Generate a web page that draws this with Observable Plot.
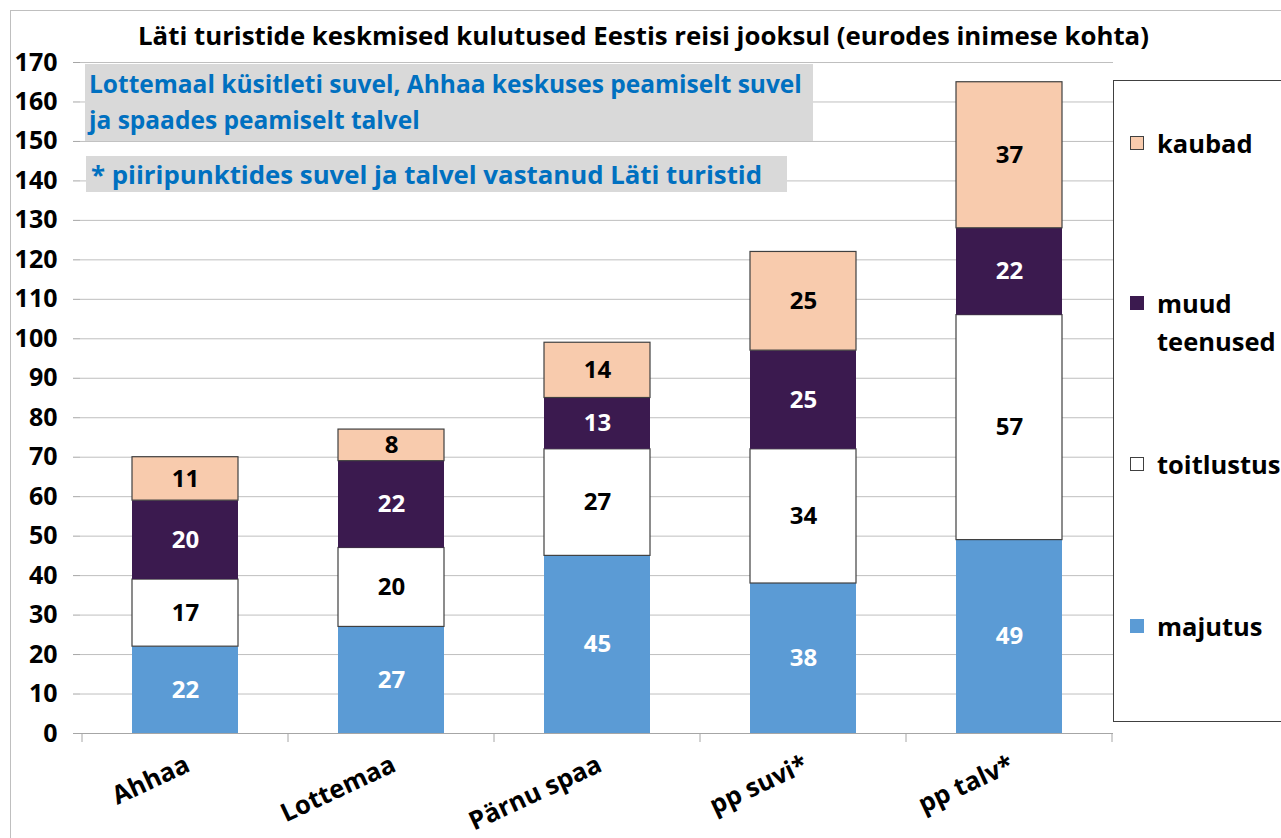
<!DOCTYPE html>
<html><head><meta charset="utf-8">
<script src="https://cdn.jsdelivr.net/npm/d3@7"></script>
<script src="https://cdn.jsdelivr.net/npm/@observablehq/plot@0.6"></script>
<style>
body{margin:0;background:#fff;font-family:"Open Sans",sans-serif;}
#wrap{position:relative;width:1281px;height:838px;overflow:hidden;}
#wrap svg{position:absolute;left:0;top:0;}
.ov{position:absolute;font-weight:bold;}
</style></head><body>
<div id="wrap"></div>
<script>
const categories = ["Ahhaa","Lottemaa","Pärnu spaa","pp suvi*","pp talv*"];
const seriesNames = ["majutus","toitlustus","muud teenused","kaubad"];
const majutus   = [22,27,45,38,49];
const toitlustus= [17,20,27,34,57];
const muud      = [20,22,13,25,22];
const kaubad    = [11,8,14,25,37];
const yTicks = d3.range(0,171,10);
const titleText = "Läti turistide keskmised kulutused Eestis reisi jooksul (eurodes inimese kohta)";
const note1 = ["Lottemaal küsitleti suvel, Ahhaa keskuses peamiselt suvel","ja spaades peamiselt talvel"];
const note2 = "* piiripunktides suvel ja talvel vastanud Läti turistid";

const colors = {"majutus":"#5B9BD5","toitlustus":"#FFFFFF","muud teenused":"#3B1A4F","kaubad":"#F8CBAD"};
const strokes = {"majutus":"none","toitlustus":"#404040","muud teenused":"none","kaubad":"#404040"};
const textColors = {"majutus":"#FFFFFF","toitlustus":"#000000","muud teenused":"#FFFFFF","kaubad":"#000000"};

const seriesVals = [majutus,toitlustus,muud,kaubad];
const rows = [];
categories.forEach((c,i)=>{
  let acc=0;
  seriesNames.forEach((s,j)=>{
    const v=seriesVals[j][i];
    rows.push({cat:c,series:s,value:v,y1:acc,y2:acc+v,mid:acc+v/2});
    acc+=v;
  });
});

const font = "Open Sans, sans-serif";
const chart = Plot.plot({
  width:1281, height:838,
  marginLeft:80, marginRight:168, marginTop:62, marginBottom:105,
  style:{fontFamily:font, background:"transparent", overflow:"visible"},
  x:{domain:categories, paddingInner:0.487, paddingOuter:0.2435, axis:null},
  y:{domain:[0,170], axis:null},
  marks:[
    Plot.gridY(yTicks,{stroke:"#BFBFBF",strokeOpacity:1,strokeWidth:1}),
    Plot.axisY({ticks:yTicks, tickSize:7, stroke:"#A6A6A6", fontSize:25, fontWeight:"bold", fill:"#000", tickPadding:16, tickFormat:d=>d, label:null}),
    Plot.ruleX([0],{frameAnchor:"left", stroke:"#A6A6A6"}),
    Plot.barY(rows,{x:"cat", y1:"y1", y2:"y2", fill:d=>colors[d.series], stroke:d=>strokes[d.series], strokeWidth:1.2}),
    Plot.ruleY([0],{stroke:"#A6A6A6"}),
    Plot.text(rows,{x:"cat", y:"mid", text:d=>String(d.value), fill:d=>textColors[d.series], fontSize:24, fontWeight:"bold"}),
    Plot.text(categories,{x:d=>d, frameAnchor:"bottom", text:d=>d, rotate:-25, textAnchor:"end", dx:6, dy:37, fontSize:25.5, fontWeight:"bold", fill:"#000"})
  ]
});
// vertical axis tick marks at band boundaries, placed via the x scale
const xs = chart.scale("x");
const ys = chart.scale("y");
const svg = d3.select(chart);
const bounds = categories.map(c=>xs.apply(c) - (xs.step - xs.bandwidth)/2);
bounds.push(bounds[bounds.length-1]+xs.step);
svg.append("g").selectAll("line").data(bounds).join("line")
  .attr("x1",d=>d).attr("x2",d=>d).attr("y1",ys.apply(0)).attr("y2",ys.apply(0)+9)
  .attr("stroke","#A6A6A6");
document.getElementById("wrap").appendChild(chart);

const wrap = document.getElementById("wrap");
function ov(html,css){const d=document.createElement("div");d.className="ov";d.innerHTML=html;Object.assign(d.style,css);wrap.appendChild(d);return d;}
// outer frame
ov("",{left:"10px",top:"10px",width:"1300px",height:"900px",border:"1px solid #BFBFBF"});
// title
ov(titleText,{left:"0px",top:"17px",width:"1287px",textAlign:"center",fontSize:"25.8px",color:"#000",whiteSpace:"nowrap"});
// notes
ov(note1.join("<br>"),{left:"85px",top:"64px",width:"728px",height:"77px",background:"#D9D9D9",color:"#0070C0",fontSize:"24.5px",lineHeight:"36px",padding:"2px 0 0 4px",boxSizing:"border-box",whiteSpace:"nowrap"});
ov(note2,{left:"86px",top:"156px",width:"701px",height:"36px",background:"#D9D9D9",color:"#0070C0",fontSize:"25.8px",lineHeight:"36px",padding:"0 0 0 5px",boxSizing:"border-box",whiteSpace:"nowrap"});
// legend box
ov("",{left:"1113px",top:"80px",width:"200px",height:"642px",border:"1px solid #404040",background:"#fff",boxSizing:"border-box"});
const legendPos = [["kaubad",143],["muud teenused",322],["toitlustus",464],["majutus",626]];
legendPos.forEach(([s,y])=>{
  ov("",{left:"1130px",top:(s==="muud teenused"?y-26:y-7)+"px",width:"14px",height:"14px",background:colors[s],border:strokes[s]==="none"?"1px solid "+colors[s]:"1px solid #404040",boxSizing:"border-box"});
  const label = s==="muud teenused" ? "muud<br>teenused" : s;
  ov(label,{left:"1157px",top:(s==="muud teenused"?y-38:y-19)+"px",fontSize:"25.5px",lineHeight:"38px",color:"#000",whiteSpace:"nowrap"});
});
</script>
</body></html>
